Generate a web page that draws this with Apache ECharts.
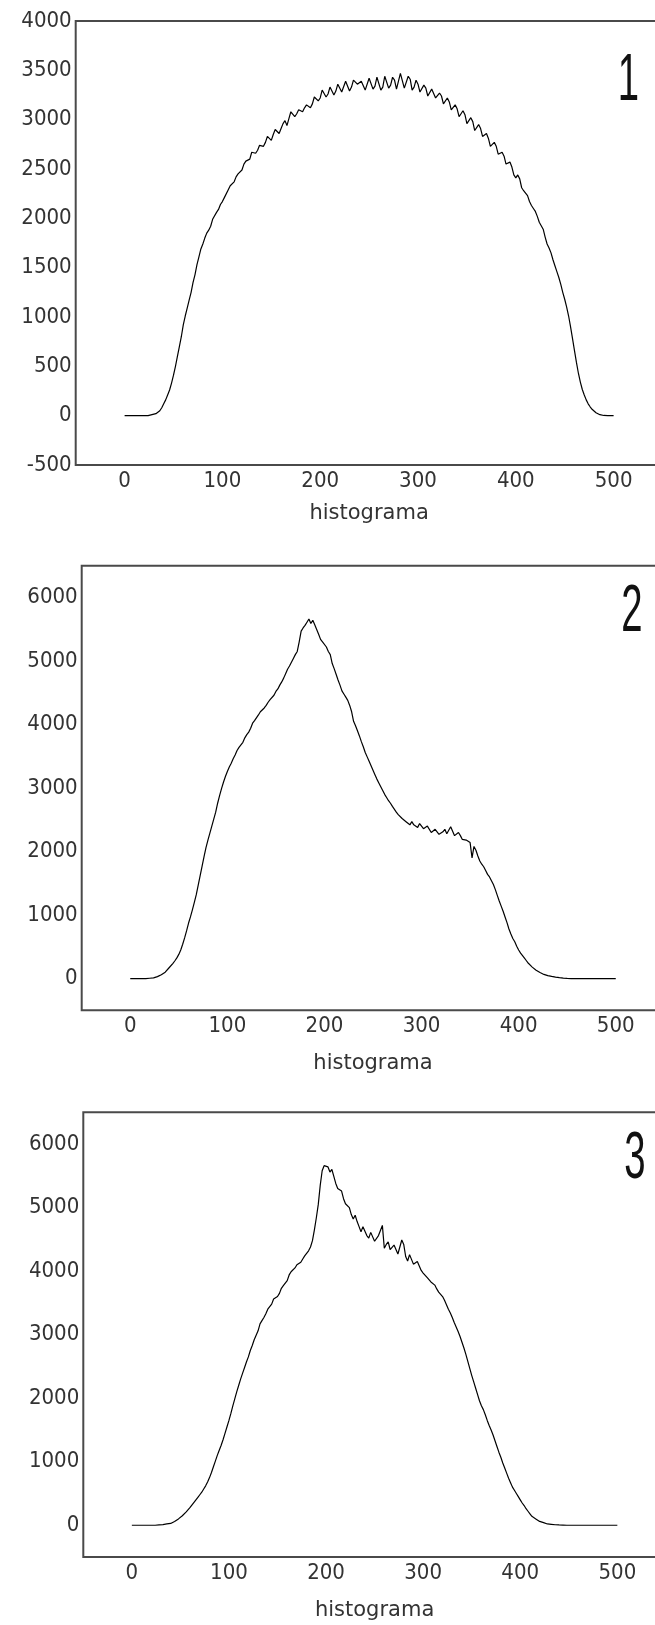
<!DOCTYPE html>
<html>
<head>
<meta charset="utf-8">
<script src="https://cdn.jsdelivr.net/npm/echarts@6/dist/echarts.min.js"></script>
<style>
  html, body { margin: 0; padding: 0; background: #ffffff; }
  #chart { width: 655px; height: 1625px; }
</style>
</head>
<body>
<div id="chart"></div>
<script>
// Histogram bins (grey level), shared by all three panels
const bins = [
  0, 2, 4, 6, 8, 10, 12, 14, 16, 18,
  20, 22, 24, 26, 28, 30, 32, 34, 36, 38,
  40, 42, 44, 46, 48, 50, 52, 54, 56, 58,
  60, 62, 64, 66, 68, 70, 72, 74, 76, 78,
  80, 82, 84, 86, 88, 90, 92, 94, 96, 98,
  100, 102, 104, 106, 108, 110, 112, 114, 116, 118,
  120, 122, 124, 126, 128, 130, 132, 134, 136, 138,
  140, 142, 144, 146, 148, 150, 152, 154, 156, 158,
  160, 162, 164, 166, 168, 170, 172, 174, 176, 178,
  180, 182, 184, 186, 188, 190, 192, 194, 196, 198,
  200, 202, 204, 206, 208, 210, 212, 214, 216, 218,
  220, 222, 224, 226, 228, 230, 232, 234, 236, 238,
  240, 242, 244, 246, 248, 250, 252, 254, 256, 258,
  260, 262, 264, 266, 268, 270, 272, 274, 276, 278,
  280, 282, 284, 286, 288, 290, 292, 294, 296, 298,
  300, 302, 304, 306, 308, 310, 312, 314, 316, 318,
  320, 322, 324, 326, 328, 330, 332, 334, 336, 338,
  340, 342, 344, 346, 348, 350, 352, 354, 356, 358,
  360, 362, 364, 366, 368, 370, 372, 374, 376, 378,
  380, 382, 384, 386, 388, 390, 392, 394, 396, 398,
  400, 402, 404, 406, 408, 410, 412, 414, 416, 418,
  420, 422, 424, 426, 428, 430, 432, 434, 436, 438,
  440, 442, 444, 446, 448, 450, 452, 454, 456, 458,
  460, 462, 464, 466, 468, 470, 472, 474, 476, 478,
  480, 482, 484, 486, 488, 490, 492, 494, 496, 498,
  500
];

// Panel 1 counts
const hist1 = [
  0, 0, 0, 0, 0, 0, 0, 0, 0, 0,
  0, 0, 0, 5, 10, 12, 20, 30, 50, 80,
  120, 160, 210, 260, 330, 410, 500, 600, 700, 800,
  920, 1010, 1090, 1170, 1250, 1350, 1430, 1530, 1610, 1690,
  1740, 1800, 1850, 1880, 1920, 1990, 2010, 2060, 2090, 2140,
  2170, 2210, 2230, 2290, 2330, 2340, 2370, 2420, 2450, 2470,
  2490, 2550, 2580, 2580, 2600, 2670, 2680, 2660, 2690, 2740,
  2760, 2730, 2770, 2830, 2840, 2790, 2850, 2900, 2880, 2860,
  2910, 2960, 2990, 2940, 3010, 3080, 3070, 3030, 3060, 3100,
  3110, 3080, 3120, 3150, 3170, 3120, 3160, 3230, 3240, 3190,
  3220, 3300, 3280, 3230, 3260, 3330, 3310, 3250, 3290, 3360,
  3350, 3280, 3300, 3390, 3370, 3290, 3330, 3400, 3380, 3360,
  3340, 3390, 3370, 3300, 3320, 3420, 3400, 3310, 3340, 3430,
  3410, 3300, 3330, 3440, 3420, 3320, 3350, 3430, 3400, 3310,
  3330, 3470, 3450, 3320, 3340, 3440, 3410, 3300, 3330, 3400,
  3360, 3280, 3290, 3350, 3320, 3240, 3250, 3310, 3290, 3220,
  3210, 3270, 3240, 3160, 3170, 3220, 3180, 3100, 3100, 3150,
  3110, 3030, 3040, 3090, 3050, 2960, 2970, 3020, 2980, 2890,
  2890, 2950, 2910, 2830, 2820, 2860, 2810, 2730, 2720, 2770,
  2730, 2650, 2630, 2670, 2630, 2550, 2530, 2570, 2520, 2440,
  2410, 2440, 2400, 2310, 2280, 2260, 2230, 2170, 2130, 2100,
  2070, 2020, 1960, 1940, 1890, 1810, 1740, 1700, 1650, 1580,
  1520, 1460, 1400, 1330, 1250, 1180, 1100, 1010, 900, 780,
  660, 540, 430, 340, 265, 210, 160, 120, 90, 65,
  45, 30, 15, 10, 5, 2, 0, 0, 0, 0,
  0
];

// Panel 2 counts
const hist2 = [
  0, 0, 0, 0, 0, 0, 0, 0, 0, 0,
  5, 8, 10, 20, 30, 45, 60, 80, 100, 130,
  170, 200, 240, 280, 325, 380, 450, 540, 640, 750,
  870, 970, 1080, 1200, 1320, 1470, 1620, 1770, 1920, 2060,
  2180, 2290, 2400, 2510, 2620, 2760, 2880, 2990, 3090, 3180,
  3260, 3330, 3390, 3460, 3520, 3590, 3640, 3660, 3720, 3790,
  3840, 3880, 3940, 4020, 4060, 4090, 4150, 4200, 4220, 4260,
  4300, 4350, 4390, 4420, 4460, 4520, 4560, 4620, 4670, 4730,
  4800, 4870, 4920, 4950, 5040, 5100, 5150, 5300, 5470, 5520,
  5560, 5610, 5660, 5590, 5640, 5570, 5560, 5420, 5340, 5300,
  5280, 5220, 5150, 5100, 4960, 4880, 4790, 4700, 4620, 4530,
  4480, 4430, 4380, 4300, 4200, 4050, 3980, 3900, 3820, 3730,
  3650, 3560, 3490, 3420, 3350, 3280, 3210, 3140, 3080, 3020,
  2960, 2900, 2850, 2800, 2760, 2710, 2680, 2620, 2580, 2550,
  2520, 2490, 2470, 2440, 2420, 2470, 2420, 2390, 2380, 2440,
  2410, 2360, 2340, 2400, 2370, 2300, 2290, 2350, 2320, 2270,
  2270, 2310, 2350, 2280, 2300, 2390, 2360, 2250, 2260, 2300,
  2250, 2190, 2200, 2180, 2150, 2140, 1900, 2080, 2020, 1930,
  1850, 1800, 1760, 1700, 1640, 1600, 1540, 1480, 1400, 1310,
  1220, 1140, 1060, 970, 880, 780, 700, 630, 580, 510,
  450, 400, 360, 320, 280, 240, 210, 180, 160, 130,
  110, 95, 80, 65, 55, 45, 40, 33, 28, 22,
  18, 14, 10, 7, 5, 2, 0, 0, 0, 0,
  0, 0, 0, 0, 0, 0, 0, 0, 0, 0,
  0, 0, 0, 0, 0, 0, 0, 0, 0, 0,
  0
];

// Panel 3 counts
const hist3 = [
  0, 0, 0, 0, 0, 0, 0, 0, 0, 0,
  0, 0, 0, 0, 5, 8, 10, 15, 20, 24,
  28, 45, 60, 80, 100, 125, 150, 180, 210, 245,
  280, 320, 360, 400, 440, 480, 520, 570, 620, 680,
  750, 830, 920, 1010, 1100, 1180, 1260, 1350, 1450, 1550,
  1650, 1760, 1880, 1990, 2100, 2200, 2300, 2390, 2480, 2570,
  2650, 2750, 2830, 2920, 2990, 3060, 3170, 3220, 3270, 3330,
  3400, 3420, 3480, 3560, 3590, 3600, 3650, 3730, 3770, 3800,
  3850, 3940, 3990, 4000, 4050, 4100, 4120, 4140, 4190, 4240,
  4270, 4320, 4380, 4480, 4650, 4840, 5050, 5350, 5580, 5660,
  5680, 5640, 5560, 5600, 5490, 5380, 5300, 5330, 5260, 5140,
  5060, 5090, 5000, 4890, 4820, 4880, 4780, 4700, 4620, 4700,
  4680, 4560, 4520, 4610, 4600, 4470, 4440, 4560, 4640, 4720,
  4360, 4420, 4460, 4340, 4330, 4410, 4380, 4270, 4260, 4490,
  4420, 4230, 4160, 4260, 4230, 4110, 4080, 4150, 4120, 4010,
  3970, 3990, 3900, 3870, 3830, 3820, 3780, 3720, 3670, 3640,
  3600, 3540, 3470, 3400, 3340, 3270, 3190, 3120, 3050, 2970,
  2880, 2790, 2690, 2580, 2470, 2360, 2260, 2160, 2060, 1960,
  1880, 1820, 1740, 1650, 1570, 1500, 1420, 1330, 1240, 1150,
  1070, 980, 900, 820, 740, 670, 600, 550, 500, 450,
  400, 350, 310, 260, 220, 180, 140, 120, 100, 80,
  60, 50, 40, 30, 20, 18, 15, 10, 8, 6,
  5, 4, 3, 2, 0, 0, 0, 0, 0, 0,
  0, 0, 0, 0, 0, 0, 0, 0, 0, 0,
  0, 0, 0, 0, 0, 0, 0, 0, 0, 0,
  0
];

const panelLabels = ['1', '2', '3'];
const xTickLabels = [0, 100, 200, 300, 400, 500];
const yTickLabels1 = [-500, 0, 500, 1000, 1500, 2000, 2500, 3000, 3500, 4000];
const yTickLabels23 = [0, 1000, 2000, 3000, 4000, 5000, 6000];
const axisName = 'histograma';

const tickFont = "'Liberation Sans Narrow', 'DejaVu Sans Condensed', 'Liberation Sans', sans-serif";
const nameFont = "'DejaVu Sans', sans-serif";
const textColor = '#333333';

// plot boxes, in pixels (the right edge runs past the page)
const boxes = [
  { left: 75.7, top: 21, width: 586.8, height: 444, nameGap: 38 },
  { left: 81.7, top: 565.7, width: 582.6, height: 444.6, nameGap: 43 },
  { left: 83.3, top: 1112.3, width: 582.6, height: 444.7, nameGap: 43 }
];
const yRanges = [
  { min: -500, max: 4000, labels: yTickLabels1 },
  { min: -500, max: 6500, labels: yTickLabels23 },
  { min: -500, max: 6500, labels: yTickLabels23 }
];
const series = [hist1, hist2, hist3];
// panel number anchors (centre of glyph)
const panelAnchors = [
  { x: 628.5, y: 82 },
  { x: 632, y: 613 },
  { x: 635, y: 1160 }
];

const chart = echarts.init(document.getElementById('chart'), null, { renderer: 'canvas' });

const option = {
  animation: false,
  backgroundColor: '#ffffff',
  grid: boxes.map(b => ({
    left: b.left, top: b.top, width: b.width, height: b.height,
    show: true, borderColor: '#4a4a4a', borderWidth: 2, backgroundColor: 'transparent',
    containLabel: false, outerBoundsMode: 'none'
  })),
  xAxis: boxes.map((b, i) => ({
    type: 'value', gridIndex: i,
    min: -50, max: 550, interval: 50,
    axisLine: { show: false }, axisTick: { show: false }, splitLine: { show: false },
    axisLabel: {
      margin: 5, color: textColor, fontFamily: tickFont, fontSize: 22,
      formatter: v => (xTickLabels.indexOf(v) >= 0 ? String(v) : '')
    },
    name: axisName, nameLocation: 'middle', nameGap: b.nameGap,
    nameTextStyle: { color: textColor, fontFamily: nameFont, fontSize: 21 }
  })),
  yAxis: yRanges.map((r, i) => ({
    type: 'value', gridIndex: i,
    min: r.min, max: r.max, interval: 500,
    axisLine: { show: false }, axisTick: { show: false }, splitLine: { show: false },
    axisLabel: {
      margin: 4, color: textColor, fontFamily: tickFont, fontSize: 22,
      formatter: v => (r.labels.indexOf(v) >= 0 ? String(v) : '')
    }
  })),
  series: series.map((vals, i) => ({
    type: 'line', xAxisIndex: i, yAxisIndex: i,
    data: bins.map((b, k) => [b, vals[k]]),
    showSymbol: false, symbol: 'none', silent: true,
    lineStyle: { color: '#000000', width: 1.2 }
  })),
  graphic: panelLabels.map((t, i) => ({
    type: 'text',
    x: panelAnchors[i].x, y: panelAnchors[i].y,
    scaleX: 0.58, scaleY: 1,
    style: {
      text: t, fill: '#111111',
      font: "66px 'Liberation Sans', sans-serif",
      align: 'center', verticalAlign: 'middle'
    },
    z: 10
  }))
};

chart.setOption(option);
</script>
</body>
</html>
